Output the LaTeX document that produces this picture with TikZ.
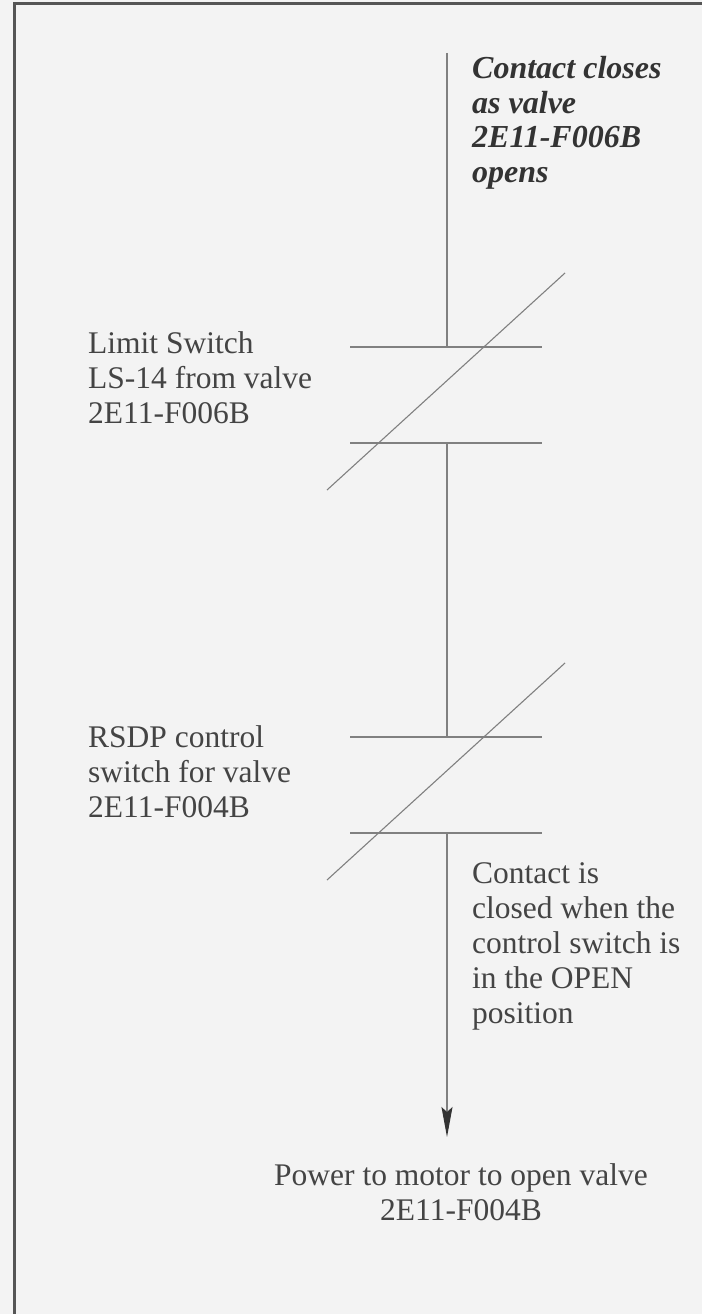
\documentclass[tikz,border=0pt]{standalone}
\usepackage{fontspec}
\setmainfont{Liberation Serif}
\usetikzlibrary{arrows.meta}
\definecolor{bg}{HTML}{F3F3F3}
\definecolor{wire}{HTML}{808080}
\definecolor{ink}{HTML}{444444}
\definecolor{dark}{HTML}{333333}
\definecolor{frame}{HTML}{555555}
\tikzset{
  wireline/.style={draw=wire, line width=1.1pt},
  lbl/.style={anchor=north west, inner sep=0pt, align=left, text=ink,
    font=\fontsize{31.5}{35}\selectfont},
  note/.style={anchor=north west, inner sep=0pt, align=left, text=dark,
    font=\fontsize{32}{34.5}\selectfont\bfseries\itshape},
}
\begin{document}
\begin{tikzpicture}[x=1pt,y=-1pt]
\useasboundingbox (0,0) rectangle (702,1314);
\fill[bg] (0,0) rectangle (702,1314);
% frame (top and left edges)
\draw[frame, line width=3.5pt] (14.5,1314) -- (14.5,3.5) -- (702,3.5);

% wire coordinates
\coordinate (top) at (447,53);
\coordinate (c1a) at (447,347);
\coordinate (c1b) at (447,443);
\coordinate (c2a) at (447,737);
\coordinate (c2b) at (447,833);
\coordinate (out) at (447,1137);

% contact 1
\coordinate (c1al) at (350,347); \coordinate (c1ar) at (542,347);
\coordinate (c1bl) at (350,443); \coordinate (c1br) at (542,443);
\coordinate (d1a) at (327,490); \coordinate (d1b) at (565,273);
% contact 2
\coordinate (c2al) at (350,737); \coordinate (c2ar) at (542,737);
\coordinate (c2bl) at (350,833); \coordinate (c2br) at (542,833);
\coordinate (d2a) at (327,880); \coordinate (d2b) at (565,663);

\draw[wireline] (top) -- (c1a);
\draw[wireline] (c1al) -- (c1ar);
\draw[wireline] (c1bl) -- (c1br);
\draw[wireline] (d1a) -- (d1b);
\draw[wireline] (c1b) -- (c2a);
\draw[wireline] (c2al) -- (c2ar);
\draw[wireline] (c2bl) -- (c2br);
\draw[wireline] (d2a) -- (d2b);
\draw[wireline, -{Stealth[length=30pt,width=11pt,inset=5pt,color=dark]}] (c2b) -- (out);

% texts
\node[note] (n1) at (472,56.5) {Contact closes\\as valve\\2E11-F006B\\opens};
\node[lbl] (t1) at (88,331.5) {Limit Switch\\LS-14 from valve\\2E11-F006B};
\node[lbl] (t2) at (88,725) {RSDP control\\switch for valve\\2E11-F004B};
\node[lbl] (t3) at (472,862) {Contact is\\closed when the\\control switch is\\in the OPEN\\position};
\node[lbl, anchor=north, align=center] (t4) at (461,1163.5) {Power to motor to open valve\\2E11-F004B};
\end{tikzpicture}
\end{document}
